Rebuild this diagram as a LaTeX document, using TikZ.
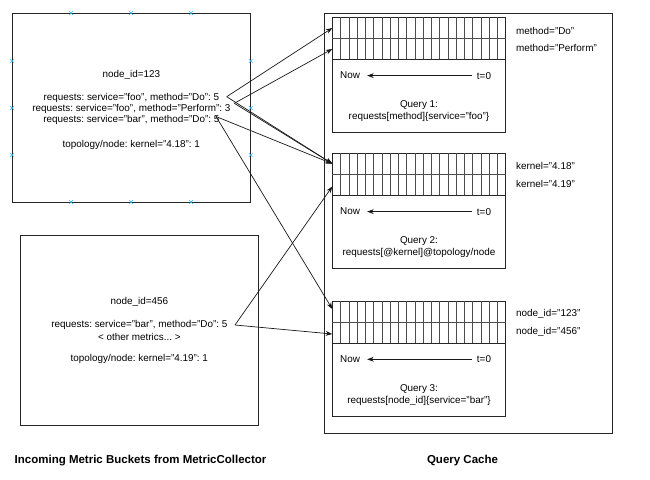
\documentclass[tikz,border=0pt]{standalone}
\usepackage{fontspec}
\setmainfont{Liberation Sans}
\usetikzlibrary{arrows.meta}
\definecolor{handle}{RGB}{41,182,242}
\frenchspacing
\begin{document}
\begin{tikzpicture}[x=1pt,y=-1pt,
  box/.style={draw=black!85,line width=0.8pt,inner sep=0pt},
  txt/.style={inner sep=0pt,font=\fontsize{9.9}{11}\selectfont},
  lbl/.style={txt,anchor=west},
  ttl/.style={inner sep=0pt,font=\fontsize{11.5}{13}\selectfont\bfseries},
  conn/.style={line width=0.7pt,draw=black!90,-{Stealth[length=6.5pt,width=4.8pt]}},
  gridline/.style={line width=0.6pt,draw=black!70},
  hmark/.style={draw=handle,line width=0.6pt},
]
\useasboundingbox (0,0) rectangle (650,479);
\fill[white] (0,0) rectangle (650,479);

% ---------- incoming boxes ----------
\node[box,minimum width=238.7pt,minimum height=189pt] (boxA) at (131.35,107.5) {};
\node[box,minimum width=238.7pt,minimum height=189.7pt] (boxB) at (139.35,330.15) {};

% handles on box A
\foreach \px/\py in {71/13,131/13,191/13,71/202,131/202,191/202,12/61,12/108,12/155,250.7/61,250.7/108,250.7/155}
  \draw[hmark] (\px-1.8,\py-1.8) -- (\px+1.8,\py+1.8) (\px-1.8,\py+1.8) -- (\px+1.8,\py-1.8);

\node[txt] (a0) at (131.35,75) {node\_id=123};
\node[txt] (a1) at (131.35,98) {requests: service="foo", method="Do": 5};
\node[txt] (a2) at (131.35,109) {requests: service="foo", method="Perform": 3};
\node[txt] (a3) at (131.35,120) {requests: service="bar", method="Do": 5};
\node[txt] (a4) at (131.35,145) {topology/node: kernel="4.18": 1};

\node[txt] (b0) at (139.35,301.7) {node\_id=456};
\node[txt] (b1) at (139.35,325) {requests: service="bar", method="Do": 5};
\node[txt] (b2) at (139.35,337.3) {< other metrics... >};
\node[txt] (b3) at (139.35,359.3) {topology/node: kernel="4.19": 1};

% ---------- query cache ----------
\node[box,minimum width=288pt,minimum height=419.7pt] (cache) at (468,223.15) {};

\foreach \i/\t in {1/17.3,2/153.3,3/301}{
  \node[box,minimum width=173.4pt,minimum height=115pt] (q\i) at (419,\t+57.5) {};
  \draw[gridline] (332.3,\t+21) -- (505.7,\t+21);
  \draw[box] (332.3,\t+42) -- (505.7,\t+42);
  \foreach \k in {1,...,20}
    \draw[gridline] ({332.3+\k*8.257},\t) -- ({332.3+\k*8.257},\t+42);
  \node[lbl] (now\i) at (340,\t+58.3) {Now};
  \node[txt] (tz\i) at (484,\t+58.3) {t=0};
  \draw[conn] ([xshift=-5pt]tz\i.west) -- ([xshift=7pt]now\i.east);
}

\node[txt] at (419,105.3) {Query 1:};
\node[txt] at (419,116.8) {requests[method]\{service="foo"\}};
\node[txt] at (419,241.3) {Query 2:};
\node[txt] at (419,252.8) {requests[@kernel]@topology/node};
\node[txt] at (419,389) {Query 3:};
\node[txt] at (419,400.5) {requests[node\_id]\{service="bar"\}};

\node[lbl] at (516,31.3) {method="Do"};
\node[lbl] at (516,48.3) {method="Perform"};
\node[lbl] at (516,166.3) {kernel="4.18"};
\node[lbl] at (516,184.3) {kernel="4.19"};
\node[lbl] at (516,314) {node\_id="123"};
\node[lbl] at (516,332.3) {node\_id="456"};

% ---------- connector end points ----------
\coordinate (sFooDo) at (226.7,96.7);
\coordinate (sFooPerf) at (234.3,103.3);
\coordinate (sBar123) at (216,116.5);
\coordinate (sBar456) at (235,325);
\coordinate (q1r1) at (332.3,28);
\coordinate (q1r2) at (332.3,49);
\coordinate (q2r1) at (332.3,163.7);
\coordinate (q2r2) at (332.3,186.5);
\coordinate (q3r1) at (332.3,309);
\coordinate (q3r2) at (332.3,334);

\draw[conn] (sFooDo) -- (q1r1);
\draw[conn] (sFooPerf) -- (q1r2);
\draw[conn] (sFooDo) -- (q2r1);
\draw[conn] (sFooPerf) -- (q2r1);
\draw[conn] (sBar123) -- (q2r1);
\draw[conn] (sBar123) -- (q3r1);
\draw[conn] (sBar456) -- (q2r2);
\draw[conn] (sBar456) -- (q3r2);

% ---------- titles ----------
\node[ttl] (t1) at (140.6,461) {Incoming Metric Buckets from MetricCollector};
\node[ttl] (t2) at (462.5,461) {Query Cache};
\end{tikzpicture}
\end{document}
